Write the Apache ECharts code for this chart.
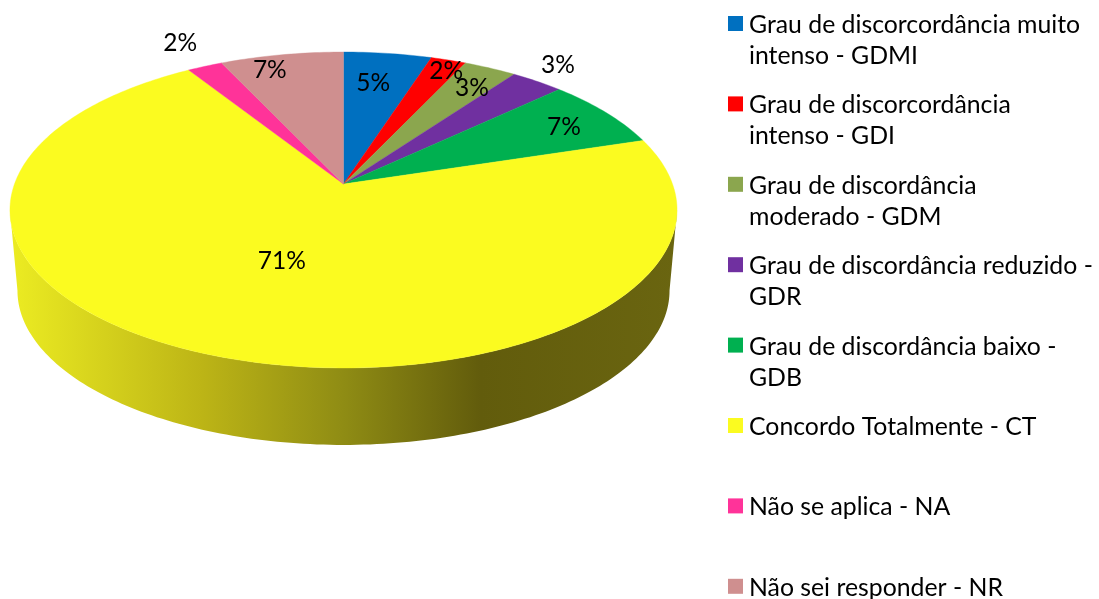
<!DOCTYPE html>
<html><head><meta charset="utf-8">
<style>html,body{margin:0;padding:0;background:#fff}#c{width:1099px;height:599px}</style>
<script src="https://cdn.jsdelivr.net/npm/echarts@6/dist/echarts.min.js"></script>
</head><body><div id="c"></div>
<script>
const categories = [
  'Grau de discorcordância muito\nintenso - GDMI',
  'Grau de discorcordância\nintenso - GDI',
  'Grau de discordância\nmoderado - GDM',
  'Grau de discordância reduzido -\nGDR',
  'Grau de discordância baixo -\nGDB',
  'Concordo Totalmente - CT',
  'Não se aplica - NA',
  'Não sei responder - NR'
];
const values = [5, 2, 3, 3, 7.2, 70.8, 2, 7];
const colors = ['#0070c0', '#ff0000', '#8ba64e', '#7030a0', '#00b050', '#fbfb20', '#ff3399', '#cf8f8f'];
const labelRadius = [0.746, 0.908, 0.821, 1.16, 0.817, 0.493, 1.229, 0.8825];
const labelShift = [-1.2, 1.4, 1.4, -1.3, 1.1, 0.4, 0.4, -4.2];

const FONT = 'Lato, "Noto Sans", sans-serif';
const total = values.reduce((a, b) => a + b, 0);
const starts = values.map((_, i) => values.slice(0, i).reduce((a, b) => a + b, 0) / total * 360);

// Perspective projection of the tilted pie disc
const cx = 343.5, apexY = 184, persp = 0.1646, ax = 329, ay = 123.4;
const wallScale = 0.9775, wallMidY = 210, wallDrop = 290.5;
function project(deg, r) {
  const t = deg * Math.PI / 180, u = r * Math.sin(t), v = -r * Math.cos(t), w = 1 - persp * v;
  return [cx + ax * u / w, (apexY + ay * v) / w];
}
function wallPoint(p) { return [cx + wallScale * (p[0] - cx), wallDrop + wallScale * (p[1] - wallMidY)]; }
function arc(a0, a1) {
  const n = Math.max(2, Math.ceil((a1 - a0) / 1)), pts = [];
  for (let i = 0; i <= n; i++) pts.push(project(a0 + (a1 - a0) * i / n, 1));
  return pts;
}
const frontA = Math.acos(-persp) * 180 / Math.PI, frontB = 360 - frontA;
const wallFill = new echarts.graphic.LinearGradient(10, 0, 677, 0, [
  { offset: 0, color: '#ecec22' },
  { offset: 0.285, color: '#bdb516' },
  { offset: 0.5, color: '#8f8c14' },
  { offset: 0.705, color: '#625c0c' },
  { offset: 1, color: '#6a6510' }
], true);

const series = categories.map((name, i) => ({
  type: 'custom', name, coordinateSystem: 'none', silent: true, animation: false,
  z: 2, data: [[values[i]]],
  renderItem(params, api) {
    const a0 = starts[i], a1 = a0 + api.value(0) / total * 360;
    const children = [];
    const f0 = Math.max(a0, frontA), f1 = Math.min(a1, frontB);
    if (f1 > f0) {
      const top = arc(f0, f1);
      const low = top.map(wallPoint).reverse();
      children.push({ type: 'polygon', shape: { points: top.concat(low) }, style: { fill: wallFill } });
    }
    children.push({
      type: 'polygon',
      shape: { points: [project(0, 0)].concat(arc(a0, a1)) },
      style: { fill: api.visual('color'), stroke: api.visual('color'), lineWidth: 0.4 }
    });
    return { type: 'group', children };
  }
}));

series.push({
  type: 'custom', name: 'rótulos', coordinateSystem: 'none', silent: true, animation: false,
  z: 5, data: values.map(v => [v]),
  renderItem(params, api) {
    const i = params.dataIndex, v = api.value(0);
    const mid = starts[i] + v / total * 180 + labelShift[i];
    const p = project(mid, labelRadius[i]);
    return { type: 'text', style: {
      x: p[0], y: p[1], text: Math.round(v / total * 100) + '%',
      fill: '#000', font: '24.5px ' + FONT, align: 'center', verticalAlign: 'middle'
    } };
  }
});

const chart = echarts.init(document.getElementById('c'), null, { renderer: 'canvas' });
chart.setOption({
  animation: false, backgroundColor: '#fff', color: colors,
  legend: {
    data: categories, orient: 'vertical', left: 728, top: 9.5, height: 660, padding: 0,
    itemWidth: 16, itemHeight: 62, itemGap: 18.4, selectedMode: false, symbolKeepAspect: false,
    icon: 'path://M0 6.5H15V21.5H0Z M0 0L0 0 M16 62L16 62',
    formatter: n => n.indexOf('\n') >= 0 ? n : n + '\n ',
    textStyle: { fontFamily: FONT, fontSize: 24.8, lineHeight: 31, color: '#000' }
  },
  series
});
</script></body></html>
